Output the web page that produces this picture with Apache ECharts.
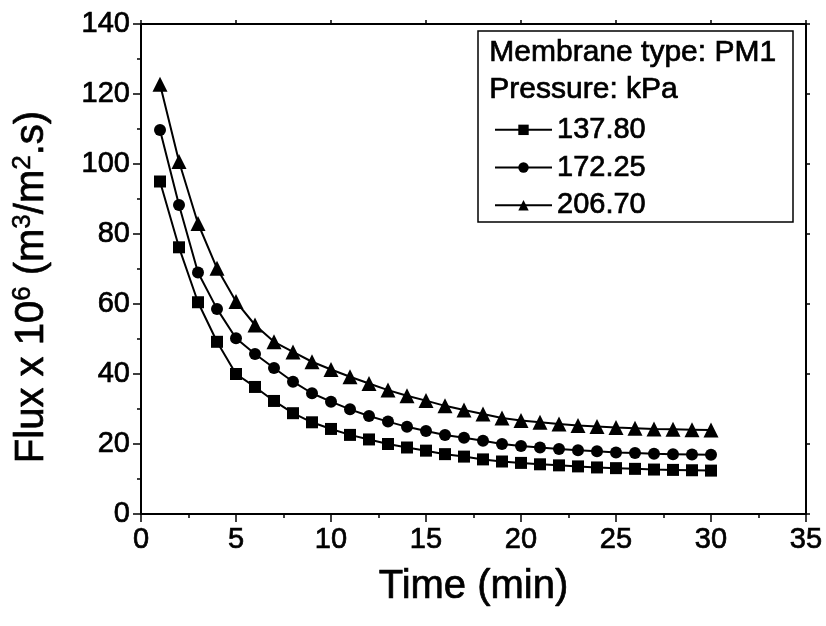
<!DOCTYPE html>
<html><head><meta charset="utf-8">
<script src="https://cdn.jsdelivr.net/npm/echarts@6/dist/echarts.min.js"></script>
<style>html,body{margin:0;padding:0;background:#fff}#c{width:826px;height:626px}</style>
</head><body><div id="c"></div>
<script>
const time = [1,2,3,4,5,6,7,8,9,10,11,12,13,14,15,16,17,18,19,20,21,22,23,24,25,26,27,28,29,30];
const p137 = [95.0,76.2,60.5,49.2,40.0,36.3,32.3,28.8,26.2,24.3,22.6,21.3,20.0,19.0,18.1,17.1,16.4,15.6,15.0,14.6,14.2,13.9,13.6,13.3,13.1,12.9,12.7,12.6,12.5,12.4];
const p172 = [109.7,88.3,69.0,58.6,50.2,45.7,41.7,37.8,34.5,32.1,29.9,28.0,26.4,24.9,23.7,22.6,21.8,20.9,20.0,19.4,19.0,18.6,18.2,17.9,17.6,17.4,17.2,17.1,17.0,16.9];
const p206 = [122.8,100.7,83.0,70.2,60.7,54.0,49.2,46.3,43.5,41.3,39.2,37.3,35.4,33.8,32.4,30.9,29.7,28.6,27.4,26.7,26.2,25.7,25.3,25.0,24.7,24.5,24.3,24.2,24.1,24.0];
const seriesNames = ['137.80','172.25','206.70'];
const seriesSymbols = ['rect','circle','triangle'];
const xTicks = [0,35,5];
const yTicks = [0,140,20];

const FONT = '"Liberation Sans", Arial, sans-serif';
const chart = echarts.init(document.getElementById('c'));
const pair = (arr) => time.map((t,i)=>[t,arr[i]]);
const data = [p137,p172,p206];
const sizes = [12,12,15];
const SW = 0.7;

const axisCommon = {
  axisLine:{show:true,onZero:false,lineStyle:{color:'#000',width:2}},
  splitLine:{show:false},
  minorTick:{show:true,splitNumber:2,length:4,lineStyle:{color:'#000',width:1.5}},
  axisTick:{show:true,inside:false,length:8,lineStyle:{color:'#000',width:1.5}},
};
const lab = {fontFamily:FONT,fontSize:29,color:'#000',margin:11,textBorderColor:'#000',textBorderWidth:SW};

chart.setOption({
  backgroundColor:'#fff',
  animation:false,
  grid:{left:141,right:20,top:24,bottom:112,containLabel:false},
  xAxis:[
    Object.assign({type:'value',min:xTicks[0],max:xTicks[1],interval:xTicks[2],position:'bottom',
      name:'Time (min)',nameLocation:'middle',nameGap:53,
      nameTextStyle:{fontFamily:FONT,fontSize:40,color:'#000',textBorderColor:'#000',textBorderWidth:SW},
      axisLabel:lab},axisCommon),
    Object.assign({type:'value',min:xTicks[0],max:xTicks[1],interval:xTicks[2],position:'top',
      axisLabel:{show:false}},axisCommon,{axisTick:{show:true,length:4,lineStyle:{color:'#000',width:1.5}},minorTick:{show:false}})
  ],
  yAxis:[
    Object.assign({type:'value',min:yTicks[0],max:yTicks[1],interval:yTicks[2],position:'left',
      name:'{a|Flux x 10}{s|6}{a| (m}{s|3}{a|/m}{s|2}{a|.s)}',nameLocation:'middle',nameGap:88,nameRotate:90,
      nameTextStyle:{padding:[0,36,0,0],rich:{
        a:{fontFamily:FONT,fontSize:40,color:'#000',textBorderColor:'#000',textBorderWidth:SW},
        s:{fontFamily:FONT,fontSize:26,color:'#000',textBorderColor:'#000',textBorderWidth:SW*0.8,padding:[0,0,17,0]}
      }},
      axisLabel:lab},axisCommon),
    Object.assign({type:'value',min:yTicks[0],max:yTicks[1],interval:yTicks[2],position:'right',
      axisLabel:{show:false}},axisCommon,{axisTick:{show:true,length:4,lineStyle:{color:'#000',width:1.5}},minorTick:{show:false}})
  ],
  legend:{
    orient:'vertical',left:489,top:110,itemGap:8,itemWidth:57,itemHeight:13,
    textStyle:{fontFamily:FONT,fontSize:29,color:'#000',textBorderColor:'#000',textBorderWidth:SW},
    data:seriesNames
  },
  graphic:[
    {type:'rect',shape:{x:478,y:31,width:315,height:191},style:{fill:'#fff',stroke:'#000',lineWidth:1.5},z:0},
    {type:'text',left:489,top:37,style:{text:'Membrane type: PM1',font:'30px '+FONT,fill:'#000',stroke:'#000',lineWidth:SW},z:10},
    {type:'text',left:489,top:74,style:{text:'Pressure: kPa',font:'30px '+FONT,fill:'#000',stroke:'#000',lineWidth:SW},z:10}
  ],
  series: seriesNames.map((n,i)=>({
    name:n,type:'line',data:pair(data[i]),xAxisIndex:0,yAxisIndex:0,
    symbol:seriesSymbols[i],symbolSize:sizes[i],showSymbol:true,
    lineStyle:{color:'#000',width:2},itemStyle:{color:'#000'},z:5
  }))
});
</script></body></html>
